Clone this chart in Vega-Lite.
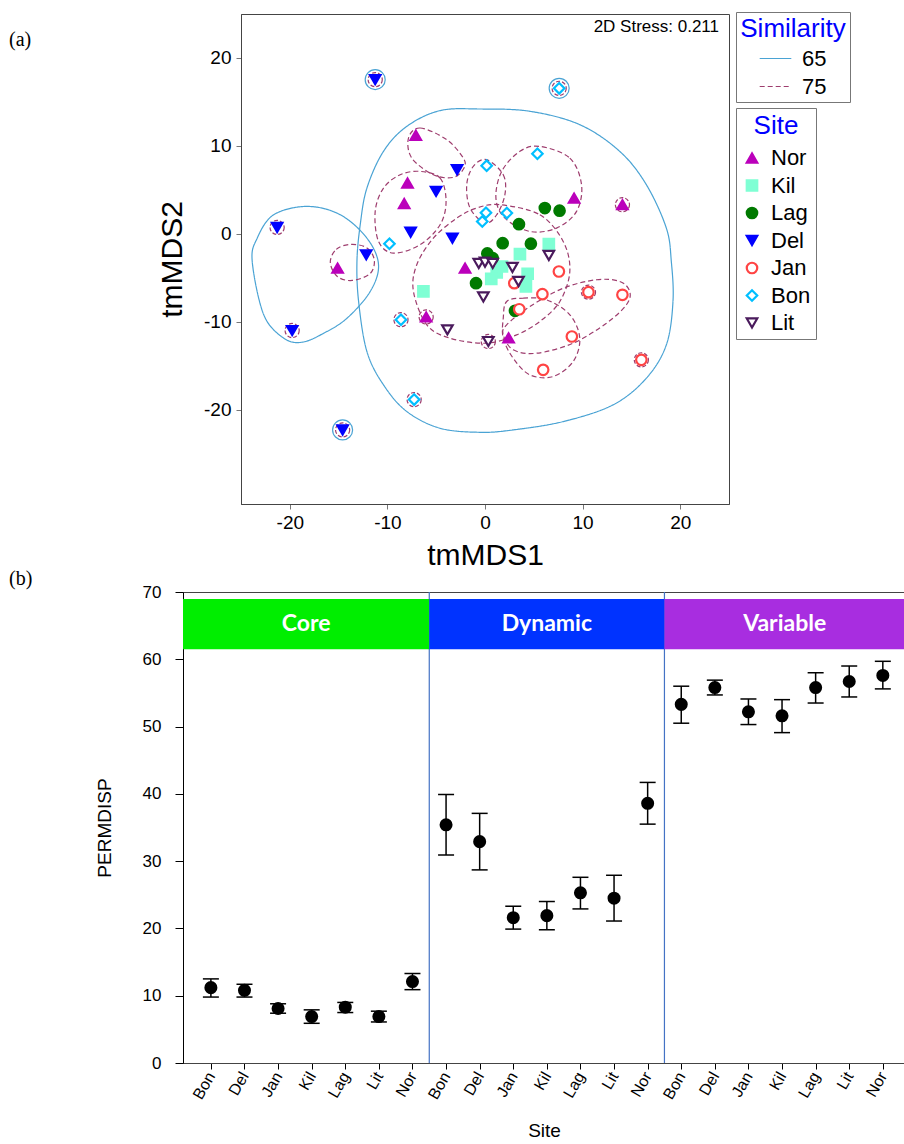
{
  "$schema": "https://vega.github.io/schema/vega-lite/v6.json",
  "padding": {"left": 8, "top": 11, "right": 0, "bottom": 0},
  "spacing": -3,
  "resolve": {
    "scale": {"color": "independent", "fill": "independent", "stroke": "independent", "shape": "independent", "strokeDash": "independent"},
    "legend": {"color": "independent", "fill": "independent", "stroke": "independent", "shape": "independent", "strokeDash": "independent"}
  },
  "config": {
    "font": "Liberation Sans",
    "view": {"stroke": "#444", "strokeWidth": 1},
    "axis": {"grid": false, "labelColor": "black", "titleColor": "black", "titleFontWeight": "normal", "titleFont": "Liberation Sans", "labelFont": "Liberation Sans", "labelOverlap": false},
    "title": {"fontWeight": "normal", "color": "black"}
  },
  "datasets": {
    "pts": [
      {"site":"Nor","x":-7.09,"y":11.21,"ring":""},
      {"site":"Nor","x":-7.94,"y":5.78,"ring":""},
      {"site":"Nor","x":-8.28,"y":3.45,"ring":""},
      {"site":"Nor","x":9.13,"y":4.07,"ring":""},
      {"site":"Nor","x":14.08,"y":3.32,"ring":"75"},
      {"site":"Nor","x":-15.10,"y":-3.89,"ring":""},
      {"site":"Nor","x":-2.04,"y":-3.89,"ring":""},
      {"site":"Nor","x":-6.03,"y":-9.44,"ring":"75"},
      {"site":"Nor","x":2.42,"y":-11.82,"ring":""},
      {"site":"Kil","x":3.58,"y":-2.30,"ring":""},
      {"site":"Kil","x":6.54,"y":-1.16,"ring":""},
      {"site":"Kil","x":1.74,"y":-3.70,"ring":""},
      {"site":"Kil","x":1.20,"y":-4.38,"ring":""},
      {"site":"Kil","x":0.64,"y":-5.10,"ring":""},
      {"site":"Kil","x":4.37,"y":-4.53,"ring":""},
      {"site":"Kil","x":4.19,"y":-5.97,"ring":""},
      {"site":"Kil","x":-6.31,"y":-6.54,"ring":""},
      {"site":"Lag","x":6.13,"y":2.94,"ring":""},
      {"site":"Lag","x":7.64,"y":2.64,"ring":""},
      {"site":"Lag","x":3.48,"y":1.11,"ring":""},
      {"site":"Lag","x":1.81,"y":-1.05,"ring":""},
      {"site":"Lag","x":4.70,"y":-1.11,"ring":""},
      {"site":"Lag","x":0.24,"y":-2.22,"ring":""},
      {"site":"Lag","x":0.79,"y":-2.75,"ring":""},
      {"site":"Lag","x":-0.92,"y":-5.60,"ring":""},
      {"site":"Lag","x":3.07,"y":-8.74,"ring":""},
      {"site":"Del","x":-11.25,"y":17.54,"ring":"65"},
      {"site":"Del","x":-2.86,"y":7.30,"ring":""},
      {"site":"Del","x":-5.01,"y":4.84,"ring":""},
      {"site":"Del","x":-7.62,"y":0.20,"ring":""},
      {"site":"Del","x":-3.34,"y":-0.48,"ring":""},
      {"site":"Del","x":-21.30,"y":0.74,"ring":"75"},
      {"site":"Del","x":-12.17,"y":-2.37,"ring":""},
      {"site":"Del","x":-19.76,"y":-10.98,"ring":"75"},
      {"site":"Del","x":-14.59,"y":-22.28,"ring":"65"},
      {"site":"Jan","x":7.57,"y":-4.27,"ring":""},
      {"site":"Jan","x":3.00,"y":-5.60,"ring":""},
      {"site":"Jan","x":5.88,"y":-6.85,"ring":""},
      {"site":"Jan","x":10.60,"y":-6.62,"ring":"75"},
      {"site":"Jan","x":14.08,"y":-6.92,"ring":""},
      {"site":"Jan","x":3.51,"y":-8.56,"ring":""},
      {"site":"Jan","x":8.90,"y":-11.66,"ring":""},
      {"site":"Jan","x":5.96,"y":-15.45,"ring":""},
      {"site":"Jan","x":16.02,"y":-14.31,"ring":"75"},
      {"site":"Bon","x":7.60,"y":16.55,"ring":"65"},
      {"site":"Bon","x":5.37,"y":9.12,"ring":""},
      {"site":"Bon","x":0.17,"y":7.76,"ring":""},
      {"site":"Bon","x":0.10,"y":2.40,"ring":""},
      {"site":"Bon","x":2.24,"y":2.37,"ring":""},
      {"site":"Bon","x":-0.28,"y":1.42,"ring":""},
      {"site":"Bon","x":-9.79,"y":-1.11,"ring":""},
      {"site":"Bon","x":-8.61,"y":-9.75,"ring":"75"},
      {"site":"Bon","x":-7.26,"y":-18.83,"ring":"75"},
      {"site":"Lit","x":-0.64,"y":-3.36,"ring":""},
      {"site":"Lit","x":0.00,"y":-3.21,"ring":""},
      {"site":"Lit","x":0.79,"y":-3.36,"ring":""},
      {"site":"Lit","x":2.81,"y":-3.81,"ring":""},
      {"site":"Lit","x":3.43,"y":-5.40,"ring":""},
      {"site":"Lit","x":6.54,"y":-2.45,"ring":""},
      {"site":"Lit","x":-0.17,"y":-7.17,"ring":""},
      {"site":"Lit","x":-3.85,"y":-10.90,"ring":""},
      {"site":"Lit","x":0.34,"y":-12.23,"ring":"75"}
    ],
    "ellipses": [
      {"id":"B1","level":"65","i":0,"x":-13.12,"y":-3.13},
      {"id":"B1","level":"65","i":1,"x":-12.78,"y":1.08},
      {"id":"B1","level":"65","i":2,"x":-12.10,"y":5.21},
      {"id":"B1","level":"65","i":3,"x":-10.40,"y":9.39},
      {"id":"B1","level":"65","i":4,"x":-8.01,"y":12.23},
      {"id":"B1","level":"65","i":5,"x":-4.60,"y":14.02},
      {"id":"B1","level":"65","i":6,"x":-0.51,"y":14.20},
      {"id":"B1","level":"65","i":7,"x":4.60,"y":13.94},
      {"id":"B1","level":"65","i":8,"x":9.71,"y":12.42},
      {"id":"B1","level":"65","i":9,"x":13.80,"y":9.39},
      {"id":"B1","level":"65","i":10,"x":16.53,"y":5.60},
      {"id":"B1","level":"65","i":11,"x":18.58,"y":0.66},
      {"id":"B1","level":"65","i":12,"x":19.09,"y":-3.13},
      {"id":"B1","level":"65","i":13,"x":19.26,"y":-7.68},
      {"id":"B1","level":"65","i":14,"x":18.58,"y":-12.61},
      {"id":"B1","level":"65","i":15,"x":16.53,"y":-16.40},
      {"id":"B1","level":"65","i":16,"x":13.12,"y":-19.43},
      {"id":"B1","level":"65","i":17,"x":8.01,"y":-21.33},
      {"id":"B1","level":"65","i":18,"x":2.89,"y":-22.28},
      {"id":"B1","level":"65","i":19,"x":-0.51,"y":-22.55},
      {"id":"B1","level":"65","i":20,"x":-4.60,"y":-22.09},
      {"id":"B1","level":"65","i":21,"x":-8.01,"y":-20.19},
      {"id":"B1","level":"65","i":22,"x":-10.40,"y":-17.16},
      {"id":"B1","level":"65","i":23,"x":-12.10,"y":-13.37},
      {"id":"B1","level":"65","i":24,"x":-12.95,"y":-7.68},
      {"id":"B2","level":"65","i":0,"x":-23.85,"y":-3.13},
      {"id":"B2","level":"65","i":1,"x":-23.34,"y":-0.48},
      {"id":"B2","level":"65","i":2,"x":-21.65,"y":2.18},
      {"id":"B2","level":"65","i":3,"x":-18.23,"y":3.13},
      {"id":"B2","level":"65","i":4,"x":-14.83,"y":2.18},
      {"id":"B2","level":"65","i":5,"x":-12.10,"y":-0.48},
      {"id":"B2","level":"65","i":6,"x":-10.91,"y":-3.50},
      {"id":"B2","level":"65","i":7,"x":-11.76,"y":-6.54},
      {"id":"B2","level":"65","i":8,"x":-14.14,"y":-9.58},
      {"id":"B2","level":"65","i":9,"x":-16.53,"y":-11.29},
      {"id":"B2","level":"65","i":10,"x":-18.74,"y":-12.31},
      {"id":"B2","level":"65","i":11,"x":-20.62,"y":-11.85},
      {"id":"B2","level":"65","i":12,"x":-22.67,"y":-9.19},
      {"id":"D1","level":"75","i":0,"x":-7.84,"y":10.90},
      {"id":"D1","level":"75","i":1,"x":-6.65,"y":12.04},
      {"id":"D1","level":"75","i":2,"x":-3.92,"y":10.71},
      {"id":"D1","level":"75","i":3,"x":-2.22,"y":8.62},
      {"id":"D1","level":"75","i":4,"x":-2.15,"y":7.49},
      {"id":"D1","level":"75","i":5,"x":-3.24,"y":6.43},
      {"id":"D1","level":"75","i":6,"x":-5.29,"y":6.73},
      {"id":"D1","level":"75","i":7,"x":-7.50,"y":8.62},
      {"id":"D2","level":"75","i":0,"x":-6.65,"y":7.11},
      {"id":"D2","level":"75","i":1,"x":-4.60,"y":6.35},
      {"id":"D2","level":"75","i":2,"x":-3.99,"y":3.70},
      {"id":"D2","level":"75","i":3,"x":-4.60,"y":1.05},
      {"id":"D2","level":"75","i":4,"x":-6.65,"y":-1.23},
      {"id":"D2","level":"75","i":5,"x":-9.38,"y":-2.18},
      {"id":"D2","level":"75","i":6,"x":-10.91,"y":-0.85},
      {"id":"D2","level":"75","i":7,"x":-11.25,"y":2.56},
      {"id":"D2","level":"75","i":8,"x":-10.40,"y":5.21},
      {"id":"D2","level":"75","i":9,"x":-8.69,"y":6.73},
      {"id":"D3","level":"75","i":0,"x":-15.85,"y":-3.24},
      {"id":"D3","level":"75","i":1,"x":-15.24,"y":-1.76},
      {"id":"D3","level":"75","i":2,"x":-13.80,"y":-1.19},
      {"id":"D3","level":"75","i":3,"x":-12.17,"y":-1.54},
      {"id":"D3","level":"75","i":4,"x":-11.35,"y":-2.90},
      {"id":"D3","level":"75","i":5,"x":-11.76,"y":-4.50},
      {"id":"D3","level":"75","i":6,"x":-13.60,"y":-5.29},
      {"id":"D3","level":"75","i":7,"x":-15.13,"y":-4.84},
      {"id":"D4","level":"75","i":0,"x":0.17,"y":8.44},
      {"id":"D4","level":"75","i":1,"x":1.87,"y":6.73},
      {"id":"D4","level":"75","i":2,"x":2.04,"y":4.46},
      {"id":"D4","level":"75","i":3,"x":1.20,"y":2.18},
      {"id":"D4","level":"75","i":4,"x":0.00,"y":1.23},
      {"id":"D4","level":"75","i":5,"x":-1.53,"y":2.94},
      {"id":"D4","level":"75","i":6,"x":-1.87,"y":5.60},
      {"id":"D4","level":"75","i":7,"x":-1.20,"y":7.68},
      {"id":"D5","level":"75","i":0,"x":5.62,"y":9.95},
      {"id":"D5","level":"75","i":1,"x":8.69,"y":8.62},
      {"id":"D5","level":"75","i":2,"x":9.89,"y":5.60},
      {"id":"D5","level":"75","i":3,"x":9.38,"y":2.56},
      {"id":"D5","level":"75","i":4,"x":7.33,"y":0.66},
      {"id":"D5","level":"75","i":5,"x":4.60,"y":0.28},
      {"id":"D5","level":"75","i":6,"x":2.04,"y":1.80},
      {"id":"D5","level":"75","i":7,"x":1.12,"y":4.07},
      {"id":"D5","level":"75","i":8,"x":1.71,"y":7.11},
      {"id":"D5","level":"75","i":9,"x":3.58,"y":9.39},
      {"id":"D6","level":"75","i":0,"x":1.53,"y":3.32},
      {"id":"D6","level":"75","i":1,"x":5.62,"y":2.18},
      {"id":"D6","level":"75","i":2,"x":8.01,"y":-0.85},
      {"id":"D6","level":"75","i":3,"x":8.69,"y":-4.27},
      {"id":"D6","level":"75","i":4,"x":7.67,"y":-7.68},
      {"id":"D6","level":"75","i":5,"x":5.62,"y":-9.95},
      {"id":"D6","level":"75","i":6,"x":3.24,"y":-11.47},
      {"id":"D6","level":"75","i":7,"x":0.17,"y":-12.42},
      {"id":"D6","level":"75","i":8,"x":-3.58,"y":-11.85},
      {"id":"D6","level":"75","i":9,"x":-5.96,"y":-10.33},
      {"id":"D6","level":"75","i":10,"x":-7.33,"y":-6.54},
      {"id":"D6","level":"75","i":11,"x":-6.99,"y":-3.50},
      {"id":"D6","level":"75","i":12,"x":-5.29,"y":-0.48},
      {"id":"D6","level":"75","i":13,"x":-2.89,"y":1.80},
      {"id":"D6","level":"75","i":14,"x":-0.85,"y":2.94},
      {"id":"D7","level":"75","i":0,"x":1.87,"y":-11.47},
      {"id":"D7","level":"75","i":1,"x":2.89,"y":-13.17},
      {"id":"D7","level":"75","i":2,"x":5.29,"y":-13.56},
      {"id":"D7","level":"75","i":3,"x":9.03,"y":-12.42},
      {"id":"D7","level":"75","i":4,"x":12.44,"y":-10.15},
      {"id":"D7","level":"75","i":5,"x":14.49,"y":-8.05},
      {"id":"D7","level":"75","i":6,"x":14.83,"y":-6.54},
      {"id":"D7","level":"75","i":7,"x":13.80,"y":-5.40},
      {"id":"D7","level":"75","i":8,"x":11.42,"y":-5.21},
      {"id":"D7","level":"75","i":9,"x":8.01,"y":-6.17},
      {"id":"D7","level":"75","i":10,"x":4.60,"y":-8.25},
      {"id":"D7","level":"75","i":11,"x":2.22,"y":-10.33},
      {"id":"D8","level":"75","i":0,"x":2.22,"y":-7.68},
      {"id":"D8","level":"75","i":1,"x":3.92,"y":-7.30},
      {"id":"D8","level":"75","i":2,"x":6.31,"y":-7.49},
      {"id":"D8","level":"75","i":3,"x":8.69,"y":-9.19},
      {"id":"D8","level":"75","i":4,"x":9.71,"y":-11.85},
      {"id":"D8","level":"75","i":5,"x":9.03,"y":-14.51},
      {"id":"D8","level":"75","i":6,"x":6.98,"y":-16.21},
      {"id":"D8","level":"75","i":7,"x":4.60,"y":-16.02},
      {"id":"D8","level":"75","i":8,"x":2.89,"y":-14.13},
      {"id":"D8","level":"75","i":9,"x":1.87,"y":-11.85},
      {"id":"D8","level":"75","i":10,"x":1.87,"y":-9.58}
    ],
    "groups": [
      {"group":"Core","start":-0.83,"end":6.5},
      {"group":"Dynamic","start":6.5,"end":13.5},
      {"group":"Variable","start":13.5,"end":20.66}
    ],
    "perm": [
      {"group":"Core","site":"Bon","pos":0,"mean":11.2,"lo":9.8,"hi":12.5},
      {"group":"Core","site":"Del","pos":1,"mean":10.8,"lo":9.8,"hi":11.7},
      {"group":"Core","site":"Jan","pos":2,"mean":8.1,"lo":7.4,"hi":8.8},
      {"group":"Core","site":"Kil","pos":3,"mean":6.9,"lo":5.9,"hi":7.9},
      {"group":"Core","site":"Lag","pos":4,"mean":8.3,"lo":7.5,"hi":9.0},
      {"group":"Core","site":"Lit","pos":5,"mean":6.9,"lo":6.1,"hi":7.7},
      {"group":"Core","site":"Nor","pos":6,"mean":12.1,"lo":10.9,"hi":13.3},
      {"group":"Dynamic","site":"Bon","pos":7,"mean":35.4,"lo":30.9,"hi":39.9},
      {"group":"Dynamic","site":"Del","pos":8,"mean":32.9,"lo":28.7,"hi":37.1},
      {"group":"Dynamic","site":"Jan","pos":9,"mean":21.6,"lo":19.9,"hi":23.3},
      {"group":"Dynamic","site":"Kil","pos":10,"mean":21.9,"lo":19.8,"hi":24.0},
      {"group":"Dynamic","site":"Lag","pos":11,"mean":25.3,"lo":22.9,"hi":27.6},
      {"group":"Dynamic","site":"Lit","pos":12,"mean":24.5,"lo":21.1,"hi":27.9},
      {"group":"Dynamic","site":"Nor","pos":13,"mean":38.6,"lo":35.5,"hi":41.7},
      {"group":"Variable","site":"Bon","pos":14,"mean":53.3,"lo":50.5,"hi":56.0},
      {"group":"Variable","site":"Del","pos":15,"mean":55.8,"lo":54.7,"hi":56.9},
      {"group":"Variable","site":"Jan","pos":16,"mean":52.2,"lo":50.3,"hi":54.1},
      {"group":"Variable","site":"Kil","pos":17,"mean":51.6,"lo":49.1,"hi":54.0},
      {"group":"Variable","site":"Lag","pos":18,"mean":55.8,"lo":53.5,"hi":58.0},
      {"group":"Variable","site":"Lit","pos":19,"mean":56.7,"lo":54.4,"hi":59.0},
      {"group":"Variable","site":"Nor","pos":20,"mean":57.6,"lo":55.6,"hi":59.7}
    ]
  },
  "vconcat": [
    {
      "spacing": 0,
      "bounds": "flush",
      "resolve": {
        "scale": {"color": "independent", "fill": "independent", "stroke": "independent", "shape": "independent", "strokeDash": "independent"},
        "legend": {"color": "independent", "fill": "independent", "stroke": "independent", "shape": "independent", "strokeDash": "independent"}
      },
      "hconcat": [
        {
          "width": 58,
          "height": 1,
          "view": {"stroke": null},
          "title": {"text": "(a)", "anchor": "start", "frame": "group", "orient": "top", "offset": -36, "dx": -174, "font": "Liberation Serif", "fontSize": 20},
          "data": {"values": []},
          "mark": "point",
          "encoding": {}
        },
        {
          "width": 488,
          "height": 490,
          "title": {"text": "2D Stress: 0.211", "anchor": "end", "frame": "group", "orient": "top", "offset": -24, "dx": -10, "fontSize": 17},
          "layer": [
            {
              "data": {"name": "ellipses"},
              "mark": {"type": "line", "interpolate": "cardinal-closed", "strokeWidth": 1.2},
              "encoding": {
                "x": {"field": "x", "type": "quantitative", "scale": {"domain": [-25, 25], "nice": false, "zero": false},
                      "axis": {"values": [-20, -10, 0, 10, 20], "labelExpr": "'' + datum.value", "title": "tmMDS1", "titleFontSize": 30, "labelFontSize": 19, "tickSize": 5, "tickColor": "#777", "domainColor": "#444", "labelPadding": 4, "titlePadding": 8}},
                "y": {"field": "y", "type": "quantitative", "scale": {"domain": [-30.7, 25], "nice": false, "zero": false},
                      "axis": {"values": [-20, -10, 0, 10, 20], "labelExpr": "'' + datum.value", "title": "tmMDS2", "titleFontSize": 30, "labelFontSize": 19, "tickSize": 5, "tickColor": "#777", "domainColor": "#444", "labelPadding": 5, "titlePadding": 16}},
                "detail": {"field": "id", "type": "nominal"},
                "order": {"field": "i", "type": "quantitative"},
                "color": {"field": "level", "type": "nominal", "scale": {"domain": ["65", "75"], "range": ["#4aa3d4", "#9e3d6e"]},
                          "legend": {"title": "Similarity", "orient": "none", "legendX": 495, "legendY": -2, "direction": "vertical", "titleColor": "#0000ff", "titleFontSize": 26, "titleFontWeight": "normal", "titleAnchor": "middle", "titlePadding": 0, "labelFontSize": 22, "labelColor": "black", "labelOffset": 10, "symbolType": "stroke", "symbolSize": 1000, "symbolStrokeWidth": 1.2, "strokeColor": "#777", "padding": 4, "rowPadding": -4}},
                "strokeDash": {"field": "level", "type": "nominal", "scale": {"domain": ["65", "75"], "range": [[1, 0], [5, 3]]},
                          "legend": {"title": "Similarity", "orient": "none", "legendX": 495, "legendY": -2, "direction": "vertical", "titleColor": "#0000ff", "titleFontSize": 26, "titleFontWeight": "normal", "titleAnchor": "middle", "titlePadding": 0, "labelFontSize": 22, "labelColor": "black", "labelOffset": 10, "symbolType": "stroke", "symbolSize": 1000, "symbolStrokeWidth": 1.2, "strokeColor": "#777", "padding": 4, "rowPadding": -4}}
              }
            },
            {
              "data": {"name": "pts"},
              "transform": [{"filter": "datum.ring == '65'"}],
              "mark": {"type": "point", "shape": "circle", "filled": false, "size": 400, "color": "#4aa3d4", "strokeWidth": 1.2, "opacity": 1},
              "encoding": {"x": {"field": "x", "type": "quantitative"}, "y": {"field": "y", "type": "quantitative"}}
            },
            {
              "data": {"name": "pts"},
              "transform": [{"filter": "datum.ring != ''"}],
              "mark": {"type": "point", "shape": "circle", "filled": false, "size": 200, "color": "#9e3d6e", "strokeWidth": 1.2, "strokeDash": [4, 2], "opacity": 1},
              "encoding": {"x": {"field": "x", "type": "quantitative"}, "y": {"field": "y", "type": "quantitative"}}
            },
            {
              "data": {"name": "pts"},
              "mark": {"type": "point", "size": 110, "strokeWidth": 2.2, "opacity": 1},
              "encoding": {
                "x": {"field": "x", "type": "quantitative"},
                "y": {"field": "y", "type": "quantitative"},
                "shape": {"field": "site", "type": "nominal", "scale": {"domain": ["Nor", "Kil", "Lag", "Del", "Jan", "Bon", "Lit"], "range": ["triangle-up", "square", "circle", "triangle-down", "circle", "diamond", "triangle-down"]},
                          "legend": {"title": "Site", "orient": "none", "legendX": 495, "legendY": 94, "titleColor": "#0000ff", "titleFontSize": 26, "titleFontWeight": "normal", "titleAnchor": "middle", "titlePadding": 8, "labelFontSize": 22, "labelColor": "black", "labelOffset": 8, "symbolSize": 110, "symbolStrokeWidth": 2.2, "strokeColor": "#777", "padding": 5, "rowPadding": 5.5}},
                "stroke": {"field": "site", "type": "nominal", "scale": {"domain": ["Nor", "Kil", "Lag", "Del", "Jan", "Bon", "Lit"], "range": ["#bb00bb", "#7fffd4", "#007a00", "#0000ff", "#ff4444", "#00bfff", "#4a1a5c"]},
                          "legend": {"title": "Site", "orient": "none", "legendX": 495, "legendY": 94, "titleColor": "#0000ff", "titleFontSize": 26, "titleFontWeight": "normal", "titleAnchor": "middle", "titlePadding": 8, "labelFontSize": 22, "labelColor": "black", "labelOffset": 8, "symbolSize": 110, "symbolStrokeWidth": 2.2, "strokeColor": "#777", "padding": 5, "rowPadding": 5.5}},
                "fill": {"field": "site", "type": "nominal", "scale": {"domain": ["Nor", "Kil", "Lag", "Del", "Jan", "Bon", "Lit"], "range": ["#bb00bb", "#7fffd4", "#007a00", "#0000ff", "white", "white", "white"]},
                          "legend": {"title": "Site", "orient": "none", "legendX": 495, "legendY": 94, "titleColor": "#0000ff", "titleFontSize": 26, "titleFontWeight": "normal", "titleAnchor": "middle", "titlePadding": 8, "labelFontSize": 22, "labelColor": "black", "labelOffset": 8, "symbolSize": 110, "symbolStrokeWidth": 2.2, "strokeColor": "#777", "padding": 5, "rowPadding": 5.5}}
              }
            }
          ]
        }
      ]
    },
    {
      "width": 722,
      "height": 471,
      "title": {"text": "(b)", "anchor": "start", "frame": "group", "orient": "top", "offset": -6, "dx": -174, "font": "Liberation Serif", "fontSize": 20},
      "layer": [
        {
          "data": {"name": "groups"},
          "transform": [{"filter": "datum.group != 'Variable'"}],
          "mark": {"type": "rule", "color": "#4472c4", "strokeWidth": 1.2},
          "encoding": {
            "x": {"field": "end", "type": "quantitative", "scale": {"domain": [-0.83, 20.66], "nice": false, "zero": false},
                  "axis": {"values": [0,1,2,3,4,5,6,7,8,9,10,11,12,13,14,15,16,17,18,19,20], "tickCount": 30, "labelExpr": "['Bon','Del','Jan','Kil','Lag','Lit','Nor'][datum.value % 7]", "labelOverlap": false, "labelAngle": -60, "labelAlign": "right", "labelBaseline": "middle", "labelFontSize": 16, "labelPadding": 4, "tickSize": 6, "tickColor": "black", "domainColor": "#444", "title": "Site", "titleFontSize": 19, "titlePadding": 20}}
          }
        },
        {
          "data": {"name": "groups"},
          "mark": {"type": "rect"},
          "encoding": {
            "x": {"field": "start", "type": "quantitative"},
            "x2": {"field": "end"},
            "y": {"datum": 61.5, "type": "quantitative"},
            "y2": {"datum": 68.95},
            "color": {"field": "group", "type": "nominal", "scale": {"domain": ["Core", "Dynamic", "Variable"], "range": ["#00ee00", "#0033ff", "#a82de0"]}, "legend": null}
          }
        },
        {
          "data": {"name": "groups"},
          "transform": [{"fold": ["start", "end"], "as": ["edge", "xv"]}],
          "mark": {"type": "text", "color": "white", "font": "Lato", "fontWeight": "bold", "fontSize": 23},
          "encoding": {
            "x": {"aggregate": "mean", "field": "xv", "type": "quantitative"},
            "y": {"datum": 65.2, "type": "quantitative"},
            "text": {"field": "group", "type": "nominal"}
          }
        },
        {
          "data": {"name": "perm"},
          "mark": {"type": "rule", "color": "black", "strokeWidth": 1.5},
          "encoding": {
            "x": {"field": "pos", "type": "quantitative"},
            "y": {"field": "lo", "type": "quantitative", "scale": {"domain": [0, 70], "nice": false},
                  "axis": {"values": [0,10,20,30,40,50,60,70], "labelFontSize": 17, "labelPadding": 14, "tickSize": 8, "tickColor": "black", "domainColor": "black", "title": "PERMDISP", "titleFontSize": 19, "titlePadding": 28}},
            "y2": {"field": "hi"}
          }
        },
        {
          "data": {"name": "perm"},
          "mark": {"type": "tick", "orient": "horizontal", "size": 16, "thickness": 1.5, "color": "black", "opacity": 1},
          "encoding": {"x": {"field": "pos", "type": "quantitative"}, "y": {"field": "lo", "type": "quantitative"}}
        },
        {
          "data": {"name": "perm"},
          "mark": {"type": "tick", "orient": "horizontal", "size": 16, "thickness": 1.5, "color": "black", "opacity": 1},
          "encoding": {"x": {"field": "pos", "type": "quantitative"}, "y": {"field": "hi", "type": "quantitative"}}
        },
        {
          "data": {"name": "perm"},
          "mark": {"type": "point", "shape": "circle", "filled": true, "size": 170, "color": "black", "opacity": 1},
          "encoding": {"x": {"field": "pos", "type": "quantitative"}, "y": {"field": "mean", "type": "quantitative"}}
        }
      ]
    }
  ]
}
